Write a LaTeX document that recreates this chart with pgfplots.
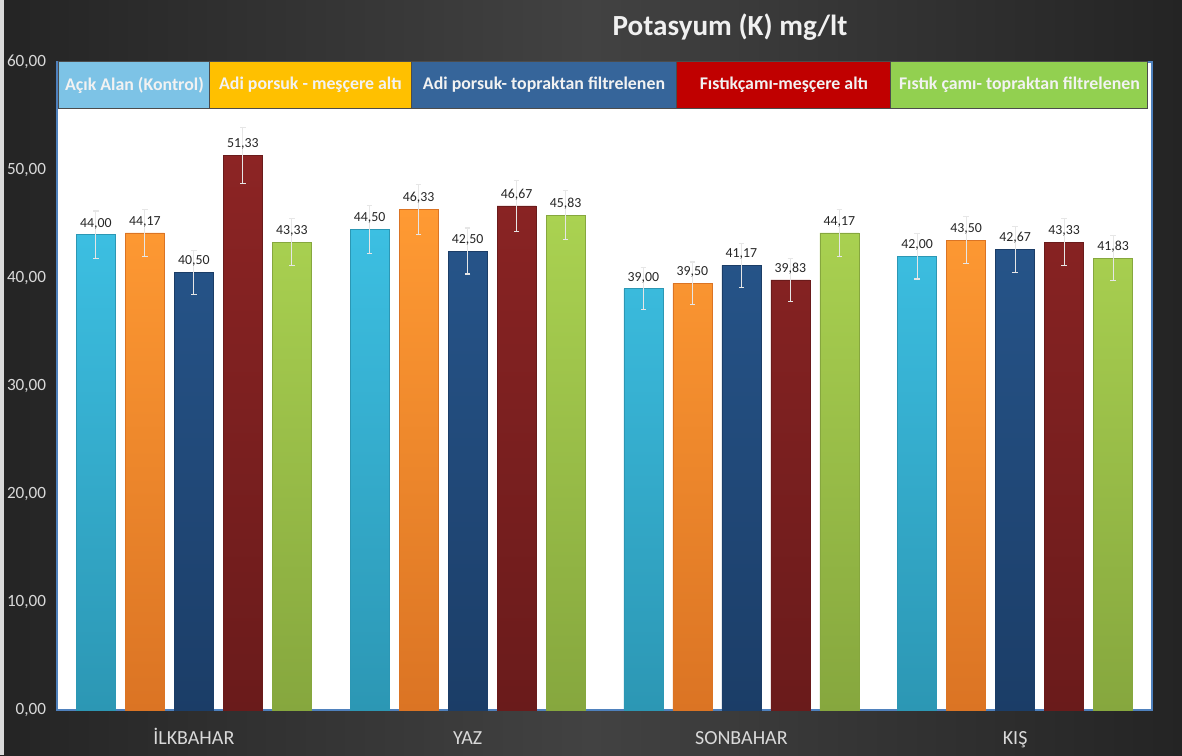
\documentclass[border=0pt]{standalone}
\usepackage{fontspec}
\setmainfont{Carlito}
\usepackage{pgfplots}
\pgfplotsset{compat=1.18}

\definecolor{bgdark}{HTML}{242424}
\definecolor{bgmid}{HTML}{424242}
\definecolor{axisblue}{HTML}{4F81BD}
\definecolor{ticktxt}{HTML}{D9D9D9}
\definecolor{errc}{HTML}{E6E6E6}
% bar colours (top / bottom of the gradient)
\definecolor{cyanT}{HTML}{3CBFE2}\definecolor{cyanB}{HTML}{2C97B4}
\definecolor{oranT}{HTML}{FF9A33}\definecolor{oranB}{HTML}{DB7424}
\definecolor{blueT}{HTML}{265489}\definecolor{blueB}{HTML}{1B3D67}
\definecolor{redT}{HTML}{8C2424}\definecolor{redB}{HTML}{6A1B1B}
\definecolor{grnT}{HTML}{AAD251}\definecolor{grnB}{HTML}{86A73E}
% legend boxes
\definecolor{lg1}{HTML}{7DC3E6}
\definecolor{lg2}{HTML}{FFC000}
\definecolor{lg3}{HTML}{36659A}
\definecolor{lg4}{HTML}{C00000}
\definecolor{lg5}{HTML}{92D050}

\begin{document}
\begin{tikzpicture}
% dark page behind the chart
\shade[left color=bgdark, right color=bgdark, middle color=bgmid]
  (-34.2pt,-27pt) rectangle (675pt,426pt);
\fill[gray!30] (-34.2pt,-27pt) rectangle (-31.5pt,426pt);

\begin{axis}[
  at={(0,0)}, anchor=south west,
  scale only axis,
  width=657pt, height=388.8pt,
  xmin=-0.5, xmax=3.5,
  ymin=0, ymax=60,
  xtick={0,1,2,3},
  xticklabels={İLKBAHAR,YAZ,SONBAHAR,KIŞ},
  ytick={0,10,...,60},
  major tick style={draw=none},
  axis line style={draw=axisblue, line width=0.8pt},
  axis background/.style={fill=white},
  /pgf/number format/assume math mode=true,
  yticklabel style={font=\fontsize{10.3}{12}\selectfont, text=ticktxt, xshift=-3pt,
    /pgf/number format/.cd, fixed, fixed zerofill, precision=2, use comma},
  xticklabel style={font=\fontsize{12}{14}\selectfont, text=ticktxt, anchor=base, yshift=-16.5pt},
  ybar,
  bar width=0.1425,
  error bars/y dir=both,
  error bars/y explicit,
  error bars/error bar style={draw=errc, line width=0.7pt},
  error bars/error mark options={draw=errc, line width=0.7pt, mark size=1.6pt, rotate=90},
  nodes near coords={\pgfmathprintnumber[fixed,fixed zerofill,precision=2,use comma]{\pgfplotspointmeta}},
  every node near coord/.append style={text=black!85, font=\fontsize{8.3}{9}\selectfont,
    /pgf/number format/assume math mode=true},
]
% Açık Alan (Kontrol)
\addplot[top color=cyanT, bottom color=cyanB, draw=cyanB, bar shift=-0.358]
  coordinates {(0,44.00) +- (0,2.20) (1,44.50) +- (0,2.23) (2,39.00) +- (0,1.95) (3,42.00) +- (0,2.10)};
% Adi porsuk - meşçere altı
\addplot[top color=oranT, bottom color=oranB, draw=oranB, bar shift=-0.179]
  coordinates {(0,44.17) +- (0,2.21) (1,46.33) +- (0,2.32) (2,39.50) +- (0,1.98) (3,43.50) +- (0,2.18)};
% Adi porsuk- topraktan filtrelenen
\addplot[top color=blueT, bottom color=blueB, draw=blueB, bar shift=0]
  coordinates {(0,40.50) +- (0,2.03) (1,42.50) +- (0,2.13) (2,41.17) +- (0,2.06) (3,42.67) +- (0,2.13)};
% Fıstıkçamı-meşçere altı
\addplot[top color=redT, bottom color=redB, draw=redB, bar shift=0.179]
  coordinates {(0,51.33) +- (0,2.57) (1,46.67) +- (0,2.33) (2,39.83) +- (0,1.99) (3,43.33) +- (0,2.17)};
% Fıstık çamı- topraktan filtrelenen
\addplot[top color=grnT, bottom color=grnB, draw=grnB, bar shift=0.358]
  coordinates {(0,43.33) +- (0,2.17) (1,45.83) +- (0,2.29) (2,44.17) +- (0,2.21) (3,41.83) +- (0,2.09)};

% legend strip along the top of the plot area
\begin{scope}[every node/.style={text=white!95!black, font=\bfseries\fontsize{10.7}{12}\selectfont}]
\draw[fill=lg1, draw=black!70, line width=0.6pt] (rel axis cs:0.0018,0.929) rectangle (rel axis cs:0.1397,1)
  node[midway] {Açık Alan (Kontrol)};
\draw[fill=lg2, draw=black!70, line width=0.6pt] (rel axis cs:0.1397,0.929) rectangle (rel axis cs:0.3233,1)
  node[midway] {Adi porsuk - meşçere altı};
\draw[fill=lg3, draw=black!70, line width=0.6pt] (rel axis cs:0.3233,0.929) rectangle (rel axis cs:0.5662,1)
  node[midway] {Adi porsuk- topraktan filtrelenen};
\draw[fill=lg4, draw=black!70, line width=0.6pt] (rel axis cs:0.5662,0.929) rectangle (rel axis cs:0.7616,1)
  node[midway] {Fıstıkçamı-meşçere altı};
\draw[fill=lg5, draw=black!70, line width=0.6pt] (rel axis cs:0.7616,0.929) rectangle (rel axis cs:0.9963,1)
  node[midway] {Fıstık çamı- topraktan filtrelenen};
\end{scope}
\end{axis}

\node[text=white!94!black, font=\bfseries\fontsize{17.5}{20}\selectfont] at (403.8pt,409.8pt)
  {Potasyum (K) mg/lt};
\end{tikzpicture}
\end{document}
